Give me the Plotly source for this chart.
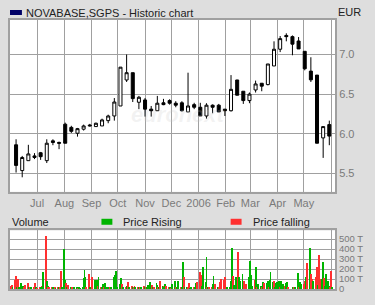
import pandas as pd
import plotly.graph_objects as go

# ---------------- data ----------------
week_dates = pd.date_range("2005-06-07", periods=52, freq="7D")

opens  = [5.86, 5.535, 5.66, 5.72, 5.76, 5.66, 5.91, 5.89, 6.12, 6.08,
          6.006, 6.057, 6.11, 6.09, 6.098, 6.165, 6.224, 6.35, 6.678, 6.77,
          6.397, 6.426, 6.31, 6.29, 6.39, 6.418, 6.385, 6.39, 6.275, 6.367,
          6.334, 6.224, 6.36, 6.36, 6.31, 6.29, 6.678, 6.536, 6.418, 6.552,
          6.637, 6.62, 6.855, 7.066, 7.24, 7.225, 7.17, 7.04, 6.79, 6.74,
          5.947, 6.115]
highs  = [5.93, 5.72, 5.86, 5.755, 5.77, 5.93, 5.93, 5.90, 6.14, 6.10,
          6.073, 6.115, 6.124, 6.14, 6.19, 6.24, 6.45, 6.84, 7.0, 6.77,
          6.477, 6.45, 6.35, 6.477, 6.44, 6.435, 6.41, 6.41, 6.77, 6.39,
          6.39, 6.385, 6.37, 6.376, 6.31, 6.74, 6.68, 6.536, 6.52, 6.67,
          6.64, 6.88, 7.166, 7.233, 7.267, 7.24, 7.22, 7.04, 6.965, 6.74,
          6.09, 6.165]
lows   = [5.51, 5.45, 5.66, 5.68, 5.67, 5.63, 5.855, 5.805, 5.88, 6.01,
          5.963, 6.04, 6.09, 6.09, 6.098, 6.132, 6.165, 6.35, 6.653, 6.40,
          6.31, 6.216, 6.216, 6.29, 6.36, 6.367, 6.334, 6.28, 6.275, 6.31,
          6.224, 6.19, 6.258, 6.275, 6.224, 6.28, 6.486, 6.376, 6.385, 6.52,
          6.536, 6.61, 6.855, 7.03, 7.166, 6.99, 7.07, 6.80, 6.653, 5.88,
          5.695, 5.855]
closes = [5.60, 5.70, 5.745, 5.70, 5.71, 5.88, 5.89, 5.88, 5.88, 6.03,
          6.064, 6.098, 6.10, 6.132, 6.174, 6.224, 6.40, 6.84, 6.77, 6.443,
          6.46, 6.31, 6.29, 6.385, 6.367, 6.385, 6.36, 6.29, 6.35, 6.334,
          6.224, 6.36, 6.334, 6.275, 6.29, 6.56, 6.486, 6.418, 6.50, 6.628,
          6.60, 6.88, 7.066, 7.20, 7.225, 7.13, 7.07, 6.82, 6.68, 5.88,
          6.09, 5.97]

# daily volume in thousands of shares (business days 2005-06-01 .. 2006-06-02)
volumes = [25, 40, 10,
           87, 123, 15, 97, 20,   53, 20, 25, 15, 40,   25, 53, 20, 10, 13,
           20, 10, 53, 15, 5,     20, 10, 27, 15, 163,  530, 73, 20, 27, 13,
           10, 7, 0, 13, 5,       13, 20, 10, 173, 13,  397, 87, 53, 20, 40,
           5, 13, 20, 10, 20,     10, 20, 5, 20, 3,     15, 107, 187, 120, 20,
           147, 13, 20, 10, 113,  87, 80, 87, 30, 113,  20, 10, 47, 15, 53,
           13, 20, 5, 20, 10,     53, 113, 140, 173, 20, 47, 20, 107, 47, 15,
           13, 30, 10, 63, 20,    30, 13, 10, 27, 15,   20, 13, 10, 20, 10,
           30, 10, 20, 15, 40,    63, 20, 40, 10, 15,   53, 40, 20, 15, 73,
           30, 30, 10, 47, 30,    10, 15, 20, 5, 47,    80, 15, 10, 20, 73,
           15, 20, 263, 113, 10,  15, 10, 53, 5, 15,    0, 20, 10, 53, 63,
           80, 163, 140, 30, 213, 63, 320, 15, 20, 15,  10, 47, 130, 20, 47,
           15, 10, 63, 20, 97,    87, 113, 20, 10, 15,  15, 80, 407, 130, 40,
           113, 30, 370, 113, 80, 147, 20, 80, 30, 47,  113, 15, 280, 140, 30,
           87, 213, 63, 20, 47,   30, 15, 63, 20, 53,   53, 80, 20, 87, 170,
           63, 80, 20, 53, 63,    80, 20, 73, 15, 47,   30, 53, 63, 10, 0,
           0, 20, 15, 13, 10,     160, 20, 10, 63, 47,  47, 80, 120, 30, 257,
           405, 150, 97, 80, 70,  113, 220, 40, 335, 100, 97, 270, 107, 30, 150,
           80, 30, 20, 180, 20]
vol_direction = ("rrg"
                 "rrgrg" "gggrr" "grgrg" "rgrgr" "rgrgg" "rgrgr" "rggrg" "rgrrg"
                 "ggrgr" "rgrrg" "ggrgg" "ggggr" "rggrr" "gggrg" "rggrg" "gggrg"
                 "ggggg" "grgrg" "rgrrg" "rgrrg" "rgrgg" "rgrgg" "ggrgr" "ggrgr"
                 "grggr" "rggrg" "grgrg" "rggrg" "grrgg" "grggr" "grrgg" "ggrgr"
                 "rgggr" "grrgr" "rrrgg" "gggrg" "ggrgg" "ggrrr" "grggg" "rggrg"
                 "grggr" "ggrgg" "grggg" "grggg" "rggrg" "grgrg" "grggg" "rrggr"
                 "grrgg" "rrgrr" "ggrgg" "ggrrg")
vol_dates = pd.bdate_range("2005-06-01", "2006-06-02")

month_ticks = ["2005-07-01", "2005-08-01", "2005-09-01", "2005-10-01", "2005-11-01",
               "2005-12-01", "2006-01-01", "2006-02-01", "2006-03-01", "2006-04-01",
               "2006-05-01", "2006-06-01"]
month_labels = ["Jul", "Aug", "Sep", "Oct", "Nov", "Dec", "2006", "Feb", "Mar", "Apr", "May", ""]
price_ticks = [5.5, 6.0, 6.5, 7.0]
price_labels = ["5.5", "6.0", "6.5", "7.0"]
vol_ticks = [0, 100, 200, 300, 400, 500]
vol_labels = ["0", "100 T", "200 T", "300 T", "400 T", "500 T"]

# ---------------- figure ----------------
W, H = 375, 305
ML, MR, MT, MB = 8, 40, 20, 15.7
PW, PH = W - ML - MR, H - MT - MB

def px(x):
    return (x - ML) / PW

def py(y):
    return (H - MB - y) / PH

GREEN = "#00b400"
RED = "#ff3030"
GRID = "#a0a0a0"
TICK = "#7a7a7a"
FONT = "Liberation Sans"

fig = go.Figure()
fig.add_trace(go.Candlestick(
    x=week_dates, open=opens, high=highs, low=lows, close=closes,
    increasing=dict(line=dict(color="black", width=1), fillcolor="white"),
    decreasing=dict(line=dict(color="black", width=1), fillcolor="black"),
    whiskerwidth=0, xaxis="x", yaxis="y", showlegend=False, hoverinfo="skip"))

vol_colors = [GREEN if c == "g" else RED for c in vol_direction]
fig.add_trace(go.Bar(
    x=vol_dates, y=volumes, marker=dict(color=vol_colors, line=dict(width=0)),
    width=86400000 * 1.0, xaxis="x2", yaxis="y2", showlegend=False, hoverinfo="skip"))

xrange = ["2005-05-31 02:00", "2006-06-05 12:00"]
axis_common = dict(showline=True, linecolor=GRID, linewidth=2, mirror=True,
                   gridcolor=GRID, gridwidth=1, zeroline=False)

fig.update_layout(
    width=W, height=H,
    margin=dict(l=ML, r=MR, t=MT, b=MB),
    paper_bgcolor="#dedede", plot_bgcolor="white",
    font=dict(family=FONT, size=11, color=TICK),
    bargap=0,
    xaxis=dict(type="date", range=xrange, domain=[0, 1], anchor="y",
               tickmode="array", tickvals=month_ticks, ticktext=month_labels,
               ticks="", rangeslider=dict(visible=False), **axis_common),
    yaxis=dict(domain=[py(192), 1], range=[5.267, 7.435], side="right",
               tickmode="array", tickvals=price_ticks, ticktext=price_labels,
               ticks="", anchor="x", **axis_common),
    xaxis2=dict(type="date", range=xrange, domain=[0, 1], anchor="y2",
                tickmode="array", tickvals=month_ticks, showticklabels=False,
                ticks="", **axis_common),
    yaxis2=dict(domain=[0, py(230.7)], range=[0, 586], side="right",
                tickmode="array", tickvals=vol_ticks, ticktext=vol_labels,
                tickfont=dict(size=9.5), ticks="", anchor="x2", **axis_common),
)

# header: title with navy marker, currency
fig.add_shape(type="rect", xref="paper", yref="paper",
              x0=px(8), x1=px(20), y0=py(15), y1=py(10),
              fillcolor="#000066", line=dict(width=0))
fig.add_annotation(text="NOVABASE,SGPS - Historic chart", xref="paper", yref="paper",
                   x=px(22), y=py(12.5), xanchor="left", yanchor="middle", showarrow=False,
                   font=dict(family=FONT, size=11, color="#222222"))
fig.add_annotation(text="EUR", xref="paper", yref="paper",
                   x=px(336), y=py(11.5), xanchor="left", yanchor="middle", showarrow=False,
                   font=dict(family=FONT, size=11, color="#222222"))

# volume legend
fig.add_annotation(text="Volume", xref="paper", yref="paper",
                   x=px(7.5), y=py(222), xanchor="left", yanchor="middle", showarrow=False,
                   font=dict(family=FONT, size=11, color="#222222"))
fig.add_shape(type="rect", xref="paper", yref="paper",
              x0=px(100), x1=px(111), y0=py(225), y1=py(219),
              fillcolor=GREEN, line=dict(width=0))
fig.add_annotation(text="Price Rising", xref="paper", yref="paper",
                   x=px(120), y=py(222), xanchor="left", yanchor="middle", showarrow=False,
                   font=dict(family=FONT, size=11, color="#222222"))
fig.add_shape(type="rect", xref="paper", yref="paper",
              x0=px(230), x1=px(241), y0=py(225), y1=py(219),
              fillcolor=RED, line=dict(width=0))
fig.add_annotation(text="Price falling", xref="paper", yref="paper",
                   x=px(250), y=py(222), xanchor="left", yanchor="middle", showarrow=False,
                   font=dict(family=FONT, size=11, color="#222222"))

# faint watermark
fig.add_annotation(text="<b><i>euronext</i></b>", xref="paper", yref="paper",
                   x=px(178), y=py(100), showarrow=False,
                   font=dict(family=FONT, size=22, color="rgba(200,200,200,0.22)"))

fig.write_html("out.html")
